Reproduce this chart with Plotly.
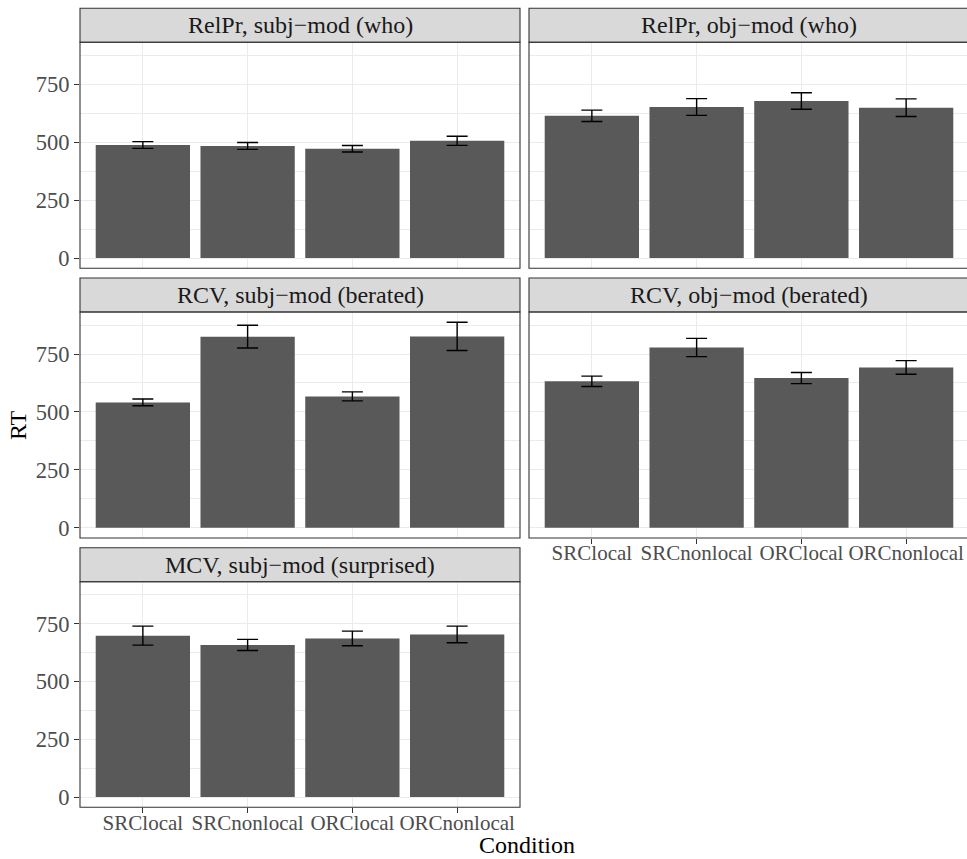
import plotly.graph_objects as go

# ---- data -----------------------------------------------------------------
conditions = ["SRClocal", "SRCnonlocal", "ORClocal", "ORCnonlocal"]

panel_titles = [
    "RelPr, subj\u2212mod (who)",
    "RelPr, obj\u2212mod (who)",
    "RCV, subj\u2212mod (berated)",
    "RCV, obj\u2212mod (berated)",
    "MCV, subj\u2212mod (surprised)",
]

relpr_subj_rt = [488, 484, 472, 506]
relpr_subj_se = [14.5, 15, 14, 19.5]

relpr_obj_rt = [614, 652, 678, 649]
relpr_obj_se = [24.5, 36, 35.5, 38]

rcv_subj_rt = [541, 825, 567, 826]
rcv_subj_se = [14.5, 49, 19.5, 61]

rcv_obj_rt = [632, 778, 646, 692]
rcv_obj_se = [22.5, 39.5, 24, 29.5]

mcv_subj_rt = [698, 658, 686, 703]
mcv_subj_se = [41, 24, 31.5, 36]

y_ticks = [0, 250, 500, 750]
y_minor = [125, 375, 625, 875]

# ---- layout geometry (pixels) ----------------------------------------------
W, H = 967, 859
FONT = "Liberation Serif"
BORDER = "#333333"
GRID = "#EBEBEB"
X_TICK_SIZE = 21
Y_TICK_SIZE = 22.5

col_px = [(80.0, 520.0), (529.0, 969.0)]      # panel left/right
row_px = [(42.3, 268.3), (312.0, 538.0), (581.7, 807.3)]  # panel top/bottom
STRIP_H = 34.0
unit_px = (col_px[0][1] - col_px[0][0]) / 4.2

# (row, col, title, means, errors, show y labels, show x labels)
panels = [
    (0, 0, panel_titles[0], relpr_subj_rt, relpr_subj_se, True, False),
    (0, 1, panel_titles[1], relpr_obj_rt, relpr_obj_se, False, False),
    (1, 0, panel_titles[2], rcv_subj_rt, rcv_subj_se, True, False),
    (1, 1, panel_titles[3], rcv_obj_rt, rcv_obj_se, False, True),
    (2, 0, panel_titles[4], mcv_subj_rt, mcv_subj_se, True, True),
]

all_top = [m + s for p in panels for m, s in zip(p[3], p[4])]
ymax = max(all_top)
pad = 0.05 * ymax
y_range = [-pad, ymax + pad]


def px_x(x):
    return x / W


def px_y(y):
    return 1 - y / H


fig = go.Figure()
shapes = []
annotations = []
layout_axes = {}

for i, (r, c, title, means, errs, show_y, show_x) in enumerate(panels):
    n = "" if i == 0 else str(i + 1)
    left, right = col_px[c]
    top, bottom = row_px[r]
    right_vis = min(right, W)
    x_hi = -0.6 + (right_vis - left) / unit_px

    fig.add_trace(go.Bar(
        x=list(range(len(conditions))),
        y=means,
        width=0.9,
        marker=dict(color="#595959", line=dict(width=0)),
        error_y=dict(type="data", array=errs, color="black",
                     thickness=1.4, width=10.5),
        xaxis="x" + n, yaxis="y" + n,
        showlegend=False,
        hoverinfo="skip",
    ))

    layout_axes["xaxis" + n] = dict(
        domain=[px_x(left), px_x(right_vis)],
        anchor="y" + n,
        range=[-0.6, x_hi],
        tickmode="array",
        tickvals=list(range(len(conditions))),
        ticktext=conditions,
        showticklabels=show_x,
        tickangle=0,
        automargin=False,
        ticks="outside" if show_x else "",
        ticklen=5, tickwidth=1.1, tickcolor=BORDER,
        ticklabelstandoff=-9,
        tickfont=dict(family=FONT, size=X_TICK_SIZE, color="#4D4D4D"),
        showgrid=True, gridcolor=GRID, gridwidth=1.1,
        zeroline=False, showline=False,
        fixedrange=True,
    )
    layout_axes["yaxis" + n] = dict(
        domain=[px_y(bottom), px_y(top)],
        anchor="x" + n,
        range=y_range,
        tickmode="array",
        tickvals=y_ticks,
        showticklabels=show_y,
        automargin=False,
        ticks="outside" if show_y else "",
        ticklen=5, tickwidth=1.1, tickcolor=BORDER,
        tickfont=dict(family=FONT, size=Y_TICK_SIZE, color="#4D4D4D"),
        showgrid=True, gridcolor=GRID, gridwidth=1.1,
        minor=dict(tickmode="array", tickvals=y_minor, showgrid=True,
                   gridcolor=GRID, gridwidth=0.6, ticks=""),
        zeroline=False, showline=False,
        fixedrange=True,
    )

    # facet strip
    shapes.append(dict(
        type="rect", xref="paper", yref="paper",
        x0=px_x(left), x1=px_x(right),
        y0=px_y(top), y1=px_y(top - STRIP_H),
        fillcolor="#D9D9D9", line=dict(color=BORDER, width=1.1),
        layer="above",
    ))
    annotations.append(dict(
        text=title, xref="paper", yref="paper",
        x=px_x((left + right) / 2), y=px_y(top - STRIP_H / 2),
        xanchor="center", yanchor="middle", showarrow=False,
        font=dict(family=FONT, size=24, color="#1A1A1A"),
    ))
    # panel border
    shapes.append(dict(
        type="rect", xref="paper", yref="paper",
        x0=px_x(left), x1=px_x(right),
        y0=px_y(bottom), y1=px_y(top),
        fillcolor="rgba(0,0,0,0)", line=dict(color=BORDER, width=1.1),
        layer="above",
    ))

# axis titles
annotations.append(dict(
    text="Condition", xref="paper", yref="paper",
    x=px_x(526.5), y=px_y(845), xanchor="center", yanchor="middle",
    showarrow=False, font=dict(family=FONT, size=24, color="black"),
))
annotations.append(dict(
    text="RT", xref="paper", yref="paper",
    x=px_x(17.5), y=px_y(425.5), xanchor="center", yanchor="middle",
    textangle=-90, showarrow=False,
    font=dict(family=FONT, size=24, color="black"),
))

fig.update_layout(
    width=W, height=H,
    margin=dict(l=0, r=0, t=0, b=0),
    paper_bgcolor="white", plot_bgcolor="white",
    shapes=shapes, annotations=annotations,
    **layout_axes,
)

fig.write_html("out.html")
